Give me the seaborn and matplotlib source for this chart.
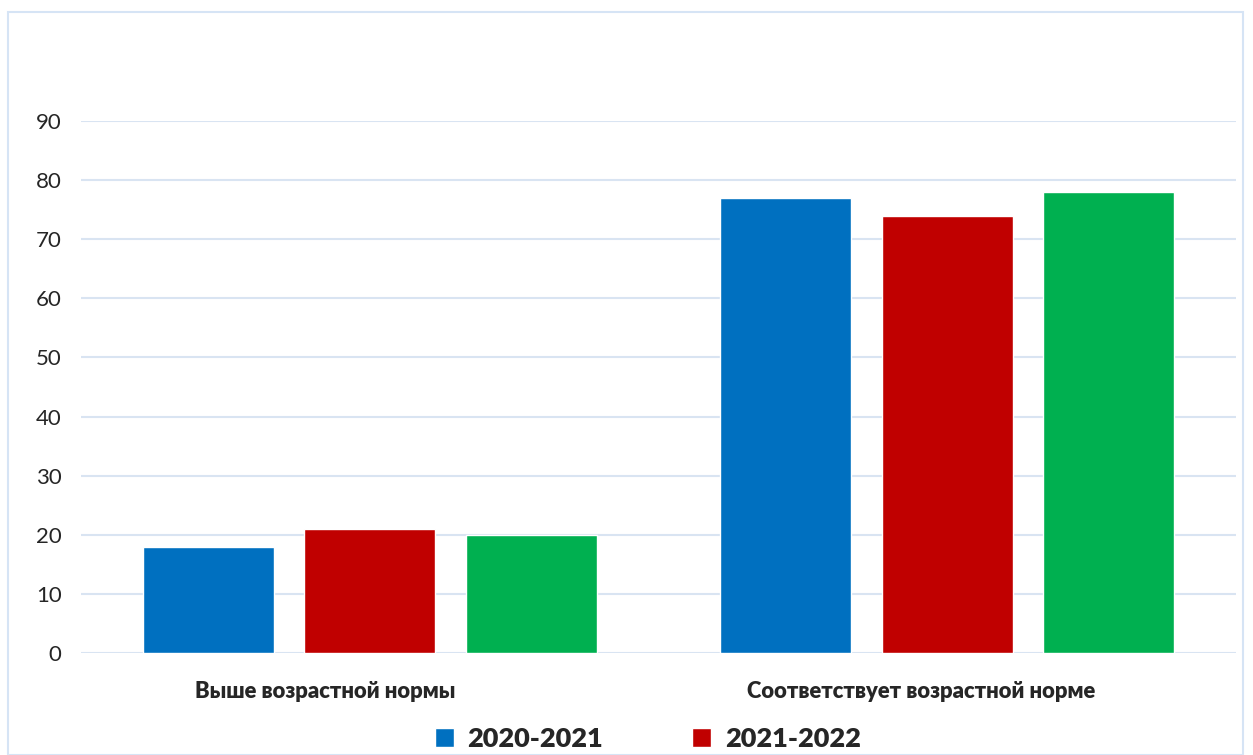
import matplotlib
matplotlib.use("Agg")
import matplotlib.pyplot as plt
import matplotlib.transforms as mtransforms
import seaborn as sns
import pandas as pd
from matplotlib.patches import Rectangle

categories = ["Выше возрастной нормы", "Соответствует возрастной норме"]
years = ["2020-2021", "2021-2022", "2022-2023"]
vals_2020 = [18, 77]
vals_2021 = [21, 74]
vals_2022 = [20, 78]
colors = ["#0070C0", "#C00000", "#00B050"]

df = pd.DataFrame({
    "category": categories * 3,
    "year": [years[0]] * 2 + [years[1]] * 2 + [years[2]] * 2,
    "value": vals_2020 + vals_2021 + vals_2022,
})

sns.set_style("white")
plt.rcParams["font.family"] = ["Lato", "DejaVu Sans"]

fig = plt.figure(figsize=(12.53, 7.55), dpi=100)
ax = fig.add_axes([81 / 1253, 1 - 653 / 755, 1155 / 1253, 532 / 755])

sns.barplot(data=df, x="category", y="value", hue="year", palette=colors,
            width=0.84, gap=0.19, saturation=1, ax=ax, legend=True, zorder=3)

ax.set_ylim(0, 90)
ax.set_yticks(range(0, 100, 10))
ax.yaxis.grid(True, color="#D9E4F2", linewidth=1.5, zorder=0)
ax.set_axisbelow(True)
for s in ax.spines.values():
    s.set_visible(False)
ax.tick_params(axis="both", length=0)
ax.tick_params(axis="y", labelsize=16, pad=14)
ax.tick_params(axis="x", labelsize=15.8, pad=20)
# category labels sit a little left of the bar groups in the original
for lbl, dx in zip(ax.get_xticklabels(), [-45, -26]):
    lbl.set_fontweight("heavy")
    lbl.set_transform(lbl.get_transform() +
                      mtransforms.ScaledTranslation(dx / 100, 0, fig.dpi_scale_trans))
ax.set_xlabel("")
ax.set_ylabel("")

# legend: 2 columns, the third entry falls on a second row below the figure edge
handles, labels = ax.get_legend_handles_labels()
ax.legend_.remove()
order = [0, 2, 1]
fig.legend([handles[i] for i in order], [labels[i] for i in order],
           loc="upper center", bbox_to_anchor=(0.517, 1 - 703 / 755),
           ncol=2, frameon=False, prop={"size": 19.5, "weight": "heavy"},
           handlelength=0.7, handleheight=0.7, handletextpad=0.5,
           columnspacing=3.3, labelspacing=2.0)

fig.patches.append(Rectangle((8 / 1253, 0), 1235 / 1253, 1 - 12 / 755,
                             transform=fig.transFigure, fill=False,
                             edgecolor="#D6E4F5", linewidth=1.5))

fig.savefig("out.png", dpi=100)
